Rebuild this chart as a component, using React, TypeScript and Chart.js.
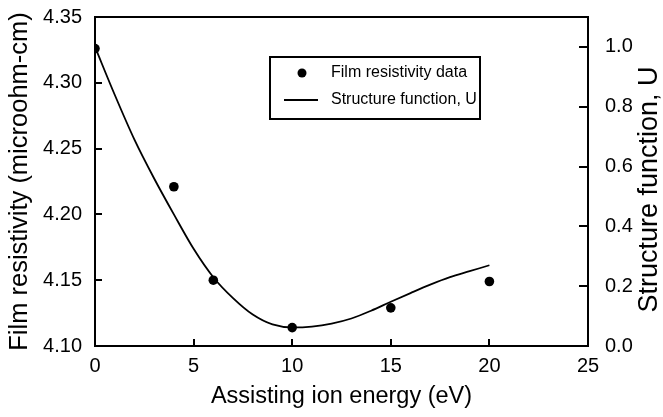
import React, { useEffect, useRef } from "react";
import { Chart, registerables } from "chart.js";

Chart.register(...registerables);

// ---- data ----
const energies = [0, 4, 6, 10, 15, 20];
const resistivity = [4.326, 4.221, 4.15, 4.114, 4.129, 4.149];

const curveEnergy = [0, 1, 2, 3, 4, 5, 6, 7, 8, 9, 10, 11, 12, 13, 14, 15, 16, 17, 18, 19, 20];
const curveU = [1.0, 0.84, 0.69, 0.56, 0.44, 0.325, 0.23, 0.16, 0.105, 0.072, 0.062, 0.065, 0.075, 0.092, 0.118, 0.148, 0.177, 0.205, 0.23, 0.25, 0.27];

const xTicks = [0, 5, 10, 15, 20, 25];
const leftTicks = [4.1, 4.15, 4.2, 4.25, 4.3, 4.35];
const rightTicks = [0, 0.2, 0.4, 0.6, 0.8, 1.0];

const xTitle = "Assisting ion energy (eV)";
const leftTitle = "Film resistivity (microohm-cm)";
const rightTitle = "Structure function, U";
const legendLabels = ["Film resistivity data", "Structure function, U"];

const FONT = "'Liberation Sans', Arial, Helvetica, sans-serif";

const framePlugin = {
  id: "frame",
  afterDatasetsDraw(chart: any) {
    const { ctx, chartArea, scales } = chart;
    const { left, right, top, bottom } = chartArea;
    ctx.save();
    ctx.strokeStyle = "#000";
    ctx.lineWidth = 2;
    ctx.strokeRect(left, top, right - left, bottom - top);
    ctx.lineWidth = 2;
    ctx.beginPath();
    scales.y.ticks.forEach((t: any) => {
      const py = Math.round(scales.y.getPixelForValue(t.value));
      ctx.moveTo(left, py);
      ctx.lineTo(left + 7, py);
    });
    scales.y2.ticks.forEach((t: any) => {
      const py = Math.round(scales.y2.getPixelForValue(t.value));
      ctx.moveTo(right - 9, py);
      ctx.lineTo(right, py);
    });
    scales.x.ticks.forEach((t: any) => {
      const px = Math.round(scales.x.getPixelForValue(t.value));
      ctx.moveTo(px, bottom);
      ctx.lineTo(px, bottom - 7);
    });
    ctx.stroke();
    ctx.restore();
  },
  afterDraw(chart: any) {
    const { ctx, chartArea, width } = chart;
    const { left, top, bottom } = chartArea;
    // right axis title, reading bottom-to-top
    ctx.save();
    ctx.fillStyle = "#000";
    ctx.font = `27px ${FONT}`;
    ctx.textAlign = "center";
    ctx.textBaseline = "middle";
    ctx.translate(width - 13, (top + bottom) / 2 + 8);
    ctx.rotate(-Math.PI / 2);
    ctx.fillText(rightTitle, 0, 0);
    ctx.restore();

    // legend box
    ctx.save();
    const bx = left + 175;
    const by = top + 40;
    const bw = 210;
    const bh = 62;
    ctx.strokeStyle = "#000";
    ctx.lineWidth = 2;
    ctx.strokeRect(bx, by, bw, bh);
    ctx.fillStyle = "#000";
    ctx.beginPath();
    ctx.arc(bx + 32, by + 16, 4.5, 0, Math.PI * 2);
    ctx.fill();
    ctx.beginPath();
    ctx.lineWidth = 1.8;
    ctx.moveTo(bx + 14, by + 43);
    ctx.lineTo(bx + 48, by + 43);
    ctx.stroke();
    ctx.font = `16px ${FONT}`;
    ctx.textAlign = "left";
    ctx.textBaseline = "middle";
    ctx.fillText(legendLabels[0], bx + 61, by + 16);
    ctx.fillText(legendLabels[1], bx + 61, by + 43);
    ctx.restore();
  },
};

export default function App() {
  const ref = useRef<HTMLCanvasElement>(null);
  useEffect(() => {
    document.body.style.margin = "0";
    const canvas = ref.current!;
    const chart = new Chart(canvas, {
      type: "scatter",
      data: {
        datasets: [
          {
            label: legendLabels[0],
            data: energies.map((e, i) => ({ x: e, y: resistivity[i] })),
            yAxisID: "y",
            showLine: false,
            pointRadius: 4.8,
            pointBackgroundColor: "#000",
            pointBorderColor: "#000",
            pointBorderWidth: 0,
          },
          {
            label: legendLabels[1],
            data: curveEnergy.map((e, i) => ({ x: e, y: curveU[i] })),
            yAxisID: "y2",
            showLine: true,
            pointRadius: 0,
            borderColor: "#000",
            borderWidth: 1.8,
            tension: 0.4,
            cubicInterpolationMode: "monotone",
            fill: false,
          },
        ],
      },
      options: {
        responsive: false,
        animation: false,
        devicePixelRatio: 1,
        layout: { padding: { top: 17, left: 0, right: 0, bottom: 0 } },
        plugins: { legend: { display: false }, tooltip: { enabled: false } },
        scales: {
          x: {
            type: "linear",
            position: "bottom",
            min: 0,
            max: 25,
            afterBuildTicks: (s: any) => {
              s.ticks = xTicks.map((v) => ({ value: v }));
            },
            afterFit: (s: any) => {
              s.height = 71;
              s.paddingLeft = 0;
              s.paddingRight = 0;
            },
            grid: { display: false, drawTicks: false },
            border: { display: false },
            ticks: { color: "#000", font: { family: FONT, size: 20 }, padding: 8, maxRotation: 0 },
            title: {
              display: true,
              text: xTitle,
              color: "#000",
              font: { family: FONT, size: 23.5 },
              padding: { top: 0, bottom: 6 },
            },
          },
          y: {
            type: "linear",
            position: "left",
            min: 4.1,
            max: 4.35,
            afterBuildTicks: (s: any) => {
              s.ticks = leftTicks.map((v) => ({ value: v }));
            },
            afterFit: (s: any) => {
              s.width = 95;
              s.paddingTop = 0;
              s.paddingBottom = 0;
            },
            grid: { display: false, drawTicks: false },
            border: { display: false },
            ticks: {
              color: "#000",
              font: { family: FONT, size: 20 },
              padding: 13,
              callback: (v: any) => Number(v).toFixed(2),
            },
            title: {
              display: true,
              text: leftTitle,
              color: "#000",
              font: { family: FONT, size: 25.5 },
              padding: { top: 5, bottom: 0 },
            },
          },
          y2: {
            type: "linear",
            position: "right",
            min: 0,
            max: 1.1,
            afterBuildTicks: (s: any) => {
              s.ticks = rightTicks.map((v) => ({ value: v }));
            },
            afterFit: (s: any) => {
              s.width = 75;
              s.paddingTop = 0;
              s.paddingBottom = 0;
            },
            grid: { display: false, drawTicks: false },
            border: { display: false },
            ticks: {
              color: "#000",
              font: { family: FONT, size: 20 },
              padding: 17,
              callback: (v: any) => Number(v).toFixed(1),
            },
          },
        },
      },
      plugins: [framePlugin],
    } as any);
    return () => chart.destroy();
  }, []);
  return <canvas ref={ref} width={663} height={417} style={{ display: "block" }} />;
}
